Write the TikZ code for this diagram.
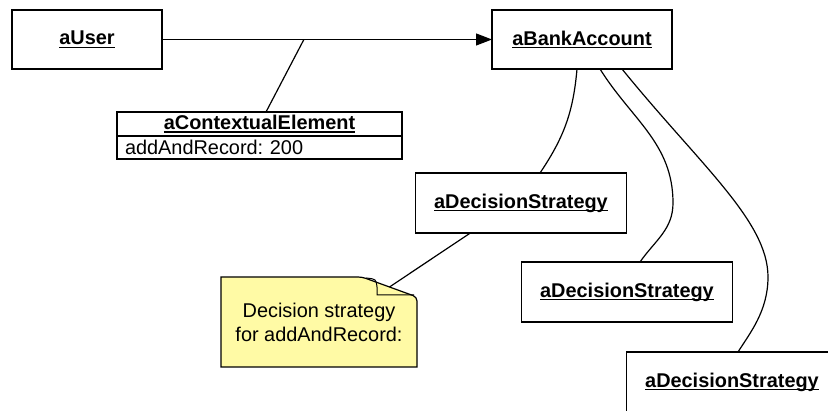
\documentclass[tikz,border=0pt]{standalone}
\usepackage{fontspec}
\setmainfont{Liberation Sans}
\usepackage{tikz}
\usetikzlibrary{arrows.meta, positioning, calc}

\definecolor{NoteYellow}{RGB}{255,250,165}
\newcommand{\objname}[1]{\setbox0\hbox{\bfseries #1}\rlap{\rule[-3pt]{\wd0}{1.3pt}}\box0}

\begin{document}
\frenchspacing
\begin{tikzpicture}[x=1pt, y=1pt, line width=1.2pt,
      every node/.append style={font=\fontsize{19.9}{24}\selectfont, inner sep=0pt, outer sep=0pt},
      object/.style={draw, minimum height=59pt},
      strategy/.style={draw, minimum width=211pt, minimum height=60pt}]
    \useasboundingbox (0,0) rectangle (828,411);
    \clip (0,0) rectangle (828,411);

    % objects
    \node (user) [object, minimum width=150pt] at (87,371.5) {\objname{aUser}};
    \node (bank) [object, minimum width=180pt] at (582,371.5) {\objname{aBankAccount}};
    \node (ctx) [draw, minimum width=285pt, minimum height=24pt] at (259.5,287) {\objname{aContextualElement}};
    \node (ctxattr) [draw, below=0pt of ctx, minimum height=23pt, text width=269pt, inner xsep=8pt, align=left] {addAndRecord: 200};
    \node (ds1) [strategy] at (521,208) {\objname{aDecisionStrategy}};
    \node (ds2) [strategy] at (627,119) {\objname{aDecisionStrategy}};
    \node (ds3) [strategy] at (732,29) {\objname{aDecisionStrategy}};

    % note with folded corner
    \coordinate (notenw) at (221,134);
    \coordinate (notefold) at (362,134);
    \coordinate (notene) at (417,114);
    \coordinate (notese) at (417,44);
    \filldraw[fill=NoteYellow] (notenw) [rounded corners=4pt] -- (notefold) -- (notene) [sharp corners] -- (notese) -- (notenw |- notese) -- cycle;
    \draw[line width=1pt] (366,133) .. controls (376,132) .. (377,124) -- (377,116) -- (414,116);
    \node (note) [align=center] at (319,89) {Decision strategy\\for addAndRecord:};

    % links
    \draw[-{Triangle[length=16pt, width=12pt]}] (user) -- (bank);
    \coordinate (ctxjoin) at ($(user.east)!0.43!(bank.west)$);
    \draw (ctxjoin) -- ([xshift=6.5pt]ctx.north);
    \draw ([xshift=-5pt]bank.south) to[out=-95, in=56] ([xshift=19pt]ds1.north);
    \draw ([xshift=18pt]bank.south) to[out=-58, in=90] (673,208) to[out=-90, in=55] ([xshift=13pt]ds2.north);
    \draw ([xshift=40pt]bank.south) .. controls (700,246) and (768,190) .. (768,134)
      .. controls (768,100) and (750,78) .. ([xshift=6pt]ds3.north);
    \draw ($(notefold)!0.5!(notene)$) -- ($(ds1.south west)!0.26!(ds1.south east)$);
\end{tikzpicture}
\end{document}
